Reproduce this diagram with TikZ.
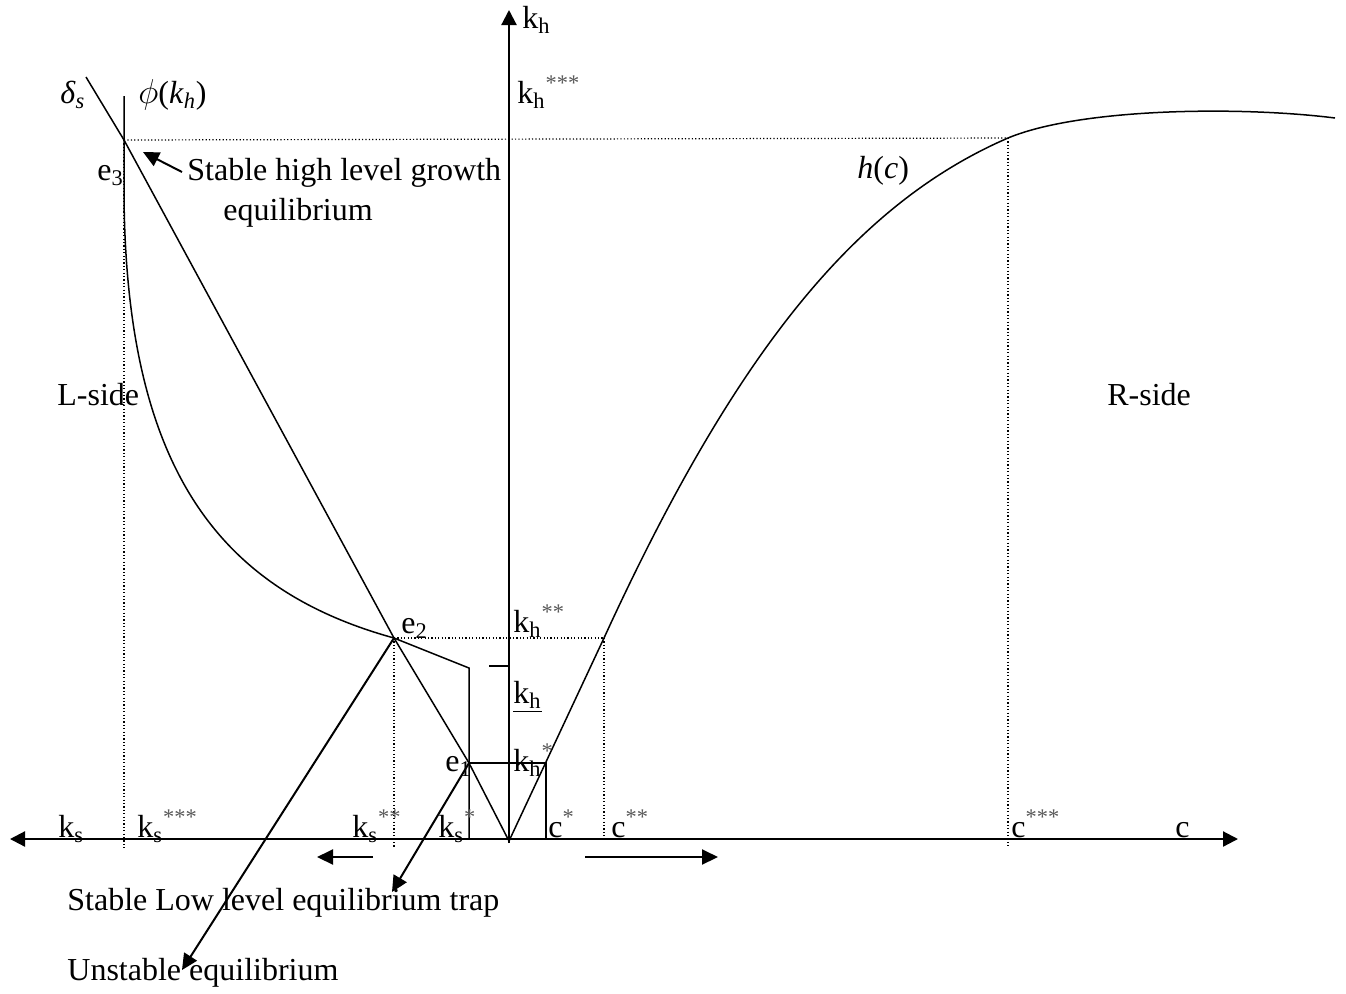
\documentclass[tikz,border=0pt]{standalone}
\usepackage{fontspec}
\setmainfont{Liberation Serif}
\usetikzlibrary{arrows.meta}
\newcommand\mysb[1]{\textsubscript{#1}}
\newcommand\myst[1]{\textsuperscript{\color{black!65}#1}}
\tikzset{axtip/.tip={Triangle[length=7.5pt,width=7.5pt]}}
\begin{document}
\begin{tikzpicture}[x=0.5pt,y=-0.5pt,
  lbl/.style={anchor=base west, inner sep=0pt, font=\fontsize{16}{19}\selectfont},
  axis/.style={line width=1.1pt},
  crv/.style={line width=0.75pt},
  dots/.style={line width=0.6pt, dash pattern=on 0.6pt off 1.1pt},
  tip/.style={line width=1pt,-{Triangle[length=8pt,width=7.5pt]}},
]
\useasboundingbox (0,0) rectangle (1346,993);
% key points
\coordinate (O) at (509,841);
\coordinate (e1) at (469,763);
\coordinate (e2) at (394,638);
\coordinate (e3) at (124,140);
\coordinate (ds) at (86,77);
\coordinate (phitop) at (124,96);
\coordinate (phibend) at (124,195);
\coordinate (kink) at (469,668);
\coordinate (kinkb) at (469,839);
\coordinate (kst) at (546,763);
\coordinate (kstb) at (546,839);
\coordinate (e2r) at (604,638);
\coordinate (e2rb) at (604,839);
\coordinate (e2b) at (394,848);
\coordinate (e3b) at (124,848);
\coordinate (h3) at (1008,138);
\coordinate (h3b) at (1008,848);
\coordinate (hend) at (1335,118);
\coordinate (axL) at (10,839);
\coordinate (axR) at (1238,839);
\coordinate (axB) at (509,843);
\coordinate (axT) at (509,10);
\coordinate (tickL) at (489,666);
\coordinate (tickR) at (509,666);
% dotted guides
\draw[dots] (e3) -- (h3);
\draw[dots] (e3) -- (e3b);
\draw[dots] (h3) -- (h3b);
\draw[dots] (e2) -- (e2r);
\draw[dots] (e2) -- (e2b);
\draw[dots] (e2r) -- (e2rb);
% axes
\draw[axis,axtip-axtip] (axL) -- (axR);
\draw[axis,-axtip] (axB) -- (axT);
% delta_s line
\draw[crv] (ds) -- (e3) -- (e2) -- (e1) -- (O);
% phi(k_h) curve
\draw[crv] (phitop) -- (phibend) .. controls (126,470) and (220,590) .. (e2) -- (kink) -- (kinkb);
% h(c) curve
\draw[crv] (O) -- (e2r) .. controls (737,348) and (858,203) .. (h3) .. controls (1080,108) and (1240,106) .. (hend);
% low equilibrium box
\draw[crv] (e1) -- (kst) -- (kstb);
\draw[crv] (tickL) -- (tickR);
% arrows
\coordinate (a1s) at (182,172); \coordinate (a1t) at (143,152);
\coordinate (a2t) at (392,892);
\coordinate (a3t) at (182,970);
\coordinate (a4s) at (373,857); \coordinate (a4t) at (317,857);
\coordinate (a5s) at (585,857); \coordinate (a5t) at (718,857);
\draw[tip] (a1s) -- (a1t);
\draw[tip] (e1) -- (a2t);
\draw[tip] (e2) -- (a3t);
\draw[tip] (a4s) -- (a4t);
\draw[tip] (a5s) -- (a5t);
% labels
\node[lbl] (lkh) at (522,28) {k\mysb{h}};
\node[lbl] (lkh3) at (517,103) {k\mysb{h}\myst{***}};
\node[lbl] (lds) at (60,103) {\textit{δ}\mysb{\textit{s}}};
\node[lbl] (lphi) at (138,103) {$\phi$(\textit{k}\mysb{\textit{h}})};
\node[lbl] (le3) at (97,180) {e\mysb{3}};
\node[lbl] (lsh) at (187,180) {Stable high level growth};
\node[lbl] (lsh2) at (223,220) {equilibrium};
\node[lbl] (lhc) at (857,178) {\textit{h}(\textit{c})};
\node[lbl] (lL) at (57,405) {L-side};
\node[lbl] (lR) at (1107,405) {R-side};
\node[lbl] (le2) at (401,633) {e\mysb{2}};
\node[lbl] (lkh2) at (513,632) {k\mysb{h}\myst{**}};
\node[lbl] (lkhu) at (513,703) {\underline{k\mysb{h}}};
\node[lbl] (le1) at (445,771) {e\mysb{1}};
\node[lbl] (lkh1) at (513,771) {k\mysb{h}\myst{*}};
\node[lbl] (lks) at (58,837) {k\mysb{s}};
\node[lbl] (lks3) at (137,837) {k\mysb{s}\myst{***}};
\node[lbl] (lks2) at (352,837) {k\mysb{s}\myst{**}};
\node[lbl] (lks1) at (438,837) {k\mysb{s}\myst{*}};
\node[lbl] (lc1) at (548,837) {c\myst{*}};
\node[lbl] (lc2) at (611,837) {c\myst{**}};
\node[lbl] (lc3) at (1011,837) {c\myst{***}};
\node[lbl] (lc) at (1175,837) {c};
\node[lbl] (llow) at (67,910) {Stable Low level equilibrium trap};
\node[lbl] (lun) at (67,980) {Unstable equilibrium};
\end{tikzpicture}
\end{document}
